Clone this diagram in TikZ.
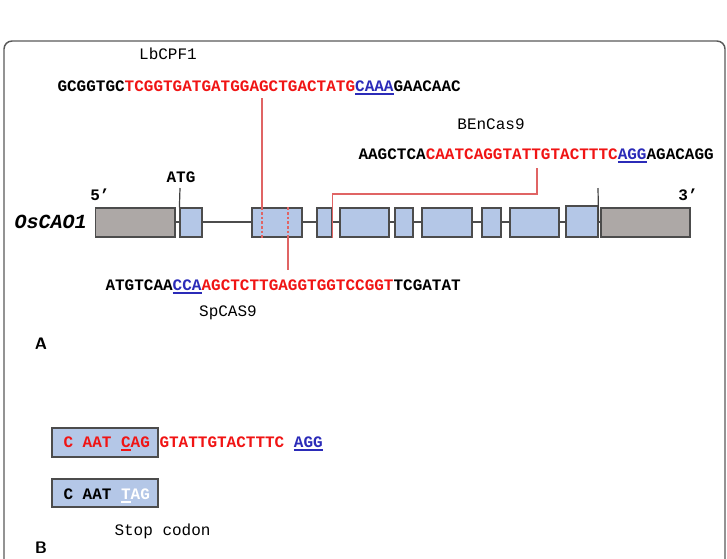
\documentclass[tikz,border=0pt]{standalone}
\usepackage{xcolor}
\usepackage{fontspec}
\setmainfont{Liberation Sans}
\setmonofont{Liberation Mono}
\usepackage{tikz}
\usetikzlibrary{fit}
\definecolor{seqred}{HTML}{F01414}
\definecolor{pamblue}{HTML}{2B2BB8}
\definecolor{exonblue}{HTML}{B4C7E7}
\definecolor{utrgray}{HTML}{ADA8A6}
\definecolor{cutred}{HTML}{E06464}
\newcommand{\ul}[1]{\setbox0\hbox{#1}\rlap{\rule[-2.7pt]{\wd0}{1.1pt}}\box0}
\newcommand{\rd}[1]{\textcolor{seqred}{#1}}
\newcommand{\pam}[1]{\textcolor{pamblue}{\ul{#1}}}

\begin{document}
\begin{tikzpicture}[x=0.75pt, y=-0.75pt, line width=0.8pt,
    font=\ttfamily\fontsize{12}{14}\selectfont,
    seq/.style={anchor=base west, inner sep=0pt, font=\ttfamily\bfseries\fontsize{12}{14}\selectfont},
    lbl/.style={anchor=base, inner sep=0pt},
    exon/.style={draw=black!70, fill=exonblue, inner sep=0pt, line width=0.9pt},
    utr/.style={exon, fill=utrgray},
    cut/.style={draw=cutred, line width=0.8pt},
    panel/.style={anchor=base, inner sep=0pt, font=\sffamily\bfseries\fontsize{12.5}{15}\selectfont}]
    \useasboundingbox (0,0) rectangle (727,558);
    \draw[rounded corners=6pt, draw=black!65, line width=1.1pt] (4,41) rectangle (725,590);

    \node[lbl] (lbname) at (168,59) {LbCPF1};
    \node[seq] (lbseq) at (57,91) {GCGGTGC\rd{TCGGTGATGATGGAGCTGACTATG}\pam{CAAA}GAACAAC};
    \node[lbl] (bename) at (491,129) {BEnCas9};
    \node[seq] (beseq) at (358,159) {AAGCTCA\rd{CAATCAGGTATTGTACTTTC}\pam{AGG}AGACAGG};
    \node[lbl, font=\ttfamily\bfseries\fontsize{12}{14}\selectfont] (atg) at (181,182) {ATG};
    \node[lbl, font=\ttfamily\bfseries\fontsize{12}{14}\selectfont] (five) at (100,200) {5’};
    \node[lbl, font=\ttfamily\bfseries\fontsize{12}{14}\selectfont] (three) at (688,200) {3’};
    \node[anchor=base west, inner sep=0pt, font=\ttfamily\bfseries\itshape\fontsize{15}{18}\selectfont] (gene) at (14,228) {OsCAO1};

    \coordinate (utrend) at (175,222);
    \coordinate (utrbeg) at (601,222);
    \draw[black!70, line width=0.9pt] (utrend) -- (utrbeg);
    \node[utr, fit={(95.5,208) (175,237)}] (g5) {};
    \node[utr, fit={(601,208) (690,237)}] (g3) {};
    \foreach \i/\a/\b in {1/180/202, 2/252/302, 3/317/332, 4/340/389, 5/395/413,
      6/422/472, 7/482/501, 8/510/559}
      \node[exon, fit={(\a,208) (\b,237)}] (e\i) {};
    \node[exon, fit={(566,206) (598,237)}] (e9) {};

    \coordinate (atgtop) at (180,188);
    \coordinate (stoptop) at (598,188);
    \draw[black!75, line width=0.9pt] (atgtop) -- (e1.north west);
    \draw[black!75, line width=0.9pt] (stoptop) -- (e9.east);

    \coordinate (lbcut) at (262,98);
    \draw[cut] (lbcut) -- (lbcut |- e2.north);
    \draw[cut, dash pattern=on 2pt off 1.5pt] (lbcut |- e2.north) -- (lbcut |- e2.south);
    \coordinate (spcut) at (288,270);
    \draw[cut, dash pattern=on 2pt off 1.5pt] (spcut |- e2.north) -- (spcut |- e2.south);
    \draw[cut] (spcut |- e2.south) -- (spcut);
    \coordinate (becut) at (537,168);
    \coordinate (bebend) at (537,194);
    \draw[cut] (becut) -- (bebend) -| (e3.south east);

    \node[seq] (spseq) at (105,290) {ATGTCAA\pam{CCA}\rd{AGCTCTTGAGGTGGTCCGGT}TCGATAT};
    \node[lbl] (spname) at (228,316) {SpCAS9};
    \node[panel] (pa) at (41,349) {A};

    \node[exon, fit={(52,428) (158,457)}] (wtbox) {};
    \node[seq] (wtseq) at (63,447) {\rd{C AAT \ul{C}AG GTATTGTACTTTC} \pam{AGG}};
    \node[exon, fit={(52,479) (158,507)}] (mutbox) {};
    \node[seq] (mutseq) at (63,499) {C AAT \textcolor{white}{\ul{T}AG}};
    \node[anchor=base west, inner sep=0pt] (stop) at (114,535) {Stop codon};
    \node[panel] (pb) at (41,553) {B};
  \end{tikzpicture}
\end{document}
